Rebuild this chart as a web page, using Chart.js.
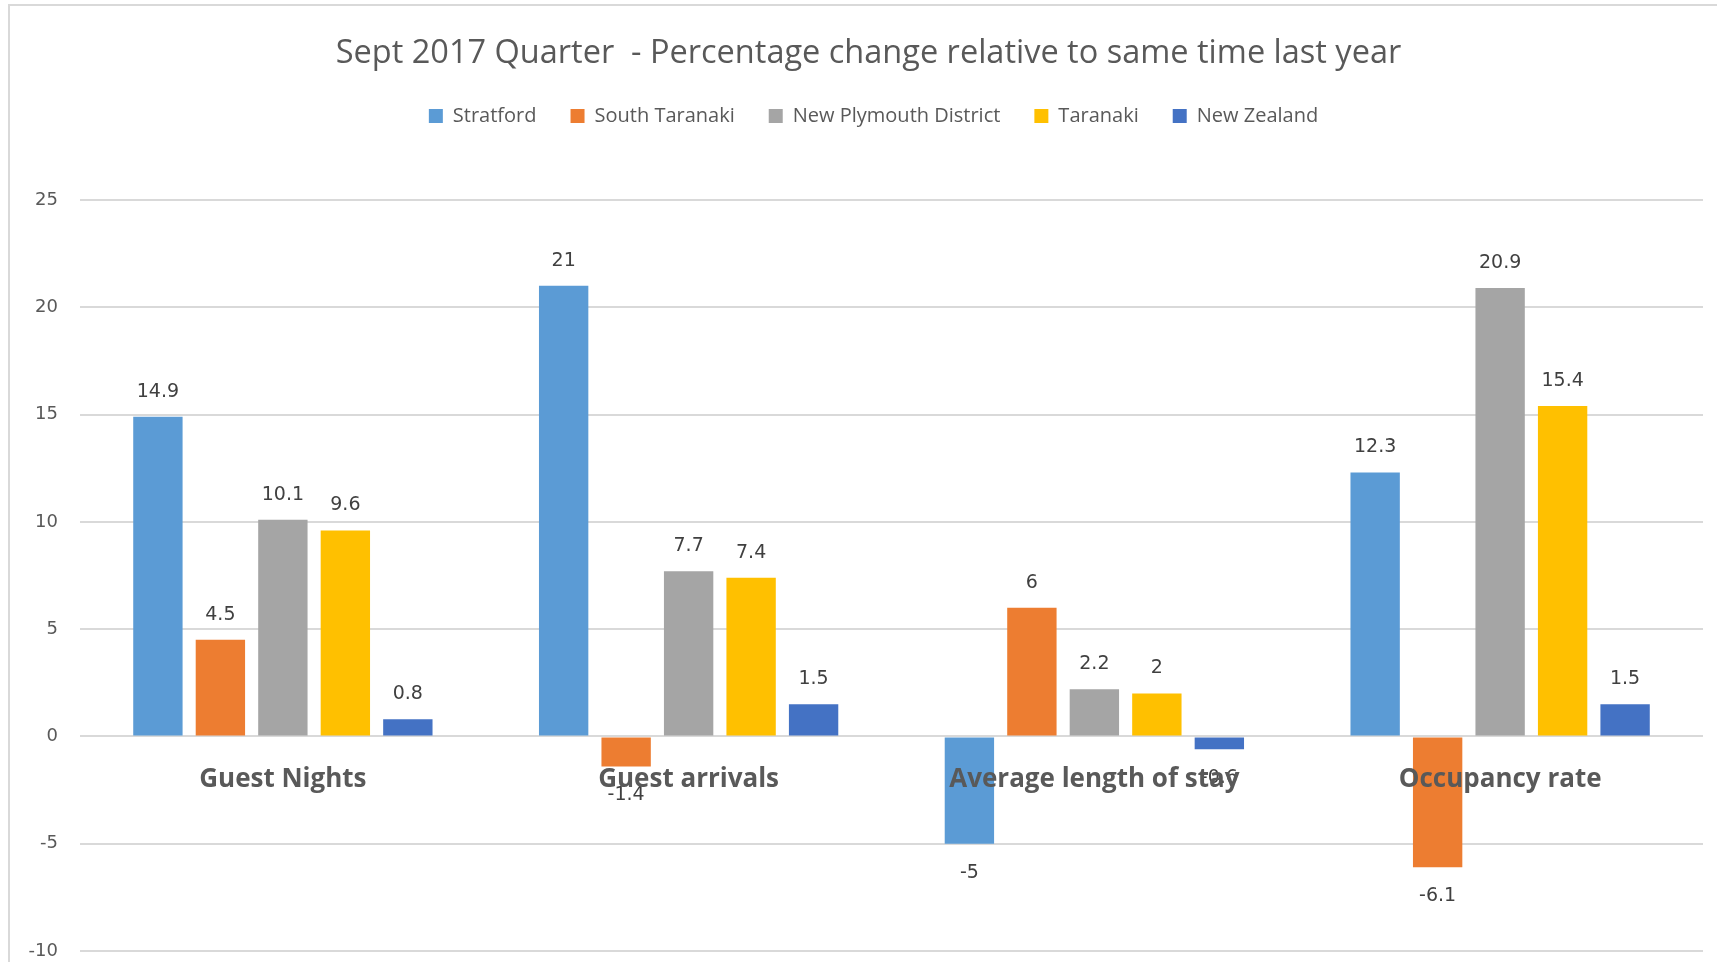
<!DOCTYPE html>
<html>
<head>
<meta charset="utf-8">
<script src="https://cdn.jsdelivr.net/npm/chart.js@4"></script>
<style>
  html, body { margin: 0; padding: 0; background: #fff; }
  #wrap { width: 1717px; height: 962px; }
</style>
</head>
<body>
<div id="wrap"><canvas id="mycanvas" width="1717" height="962"></canvas></div>
<script>
// data
const categories = ['Guest Nights', 'Guest arrivals', 'Average length of stay', 'Occupancy rate'];
const stratford = [14.9, 21, -5, 12.3];
const southTaranaki = [4.5, -1.4, 6, -6.1];
const newPlymouth = [10.1, 7.7, 2.2, 20.9];
const taranaki = [9.6, 7.4, 2, 15.4];
const newZealand = [0.8, 1.5, -0.6, 1.5];
const yTicks = [-10, -5, 0, 5, 10, 15, 20, 25];

// value labels above / below each bar
const barLabels = {
  id: 'barLabels',
  afterDatasetsDraw(chart) {
    const ctx = chart.ctx;
    ctx.save();
    ctx.font = '19px "DejaVu Sans"';
    ctx.fillStyle = '#404040';
    ctx.textAlign = 'center';
    ctx.textBaseline = 'middle';
    chart.data.datasets.forEach((ds, i) => {
      chart.getDatasetMeta(i).data.forEach((bar, j) => {
        const v = ds.data[j];
        const y = v >= 0 ? bar.y - 25 : bar.y + 29;
        ctx.fillText(String(v), bar.x, y);
      });
    });
    ctx.restore();
  }
};

// extra room under the legend, and nudge title/legend a bit right
const legendSpacer = {
  id: 'legendSpacer',
  beforeInit(chart) {
    const fit = chart.legend.fit;
    chart.legend.fit = function () {
      fit.bind(chart.legend)();
      this.height += 64;
    };
  },
  afterLayout(chart) {
    chart.titleBlock.left += 9;
    chart.titleBlock.right += 9;
    chart.legend.left += 14;
    chart.legend.right += 14;
  }
};

// thin frame line at top and left like the original
const frame = {
  id: 'frame',
  beforeDraw(chart) {
    const ctx = chart.ctx;
    ctx.save();
    ctx.strokeStyle = '#D9D9D9';
    ctx.lineWidth = 2;
    ctx.beginPath();
    ctx.moveTo(9, 962);
    ctx.lineTo(9, 5);
    ctx.lineTo(1717, 5);
    ctx.stroke();
    ctx.restore();
  }
};

new Chart(document.getElementById('mycanvas'), {
  type: 'bar',
  data: {
    labels: categories,
    datasets: [
      { label: 'Stratford', data: stratford, backgroundColor: '#5B9BD5' },
      { label: 'South Taranaki', data: southTaranaki, backgroundColor: '#ED7D31' },
      { label: 'New Plymouth District', data: newPlymouth, backgroundColor: '#A5A5A5' },
      { label: 'Taranaki', data: taranaki, backgroundColor: '#FFC000' },
      { label: 'New Zealand', data: newZealand, backgroundColor: '#4472C4' },
    ],
  },
  options: {
    responsive: false,
    animation: false,
    layout: { padding: { left: 16, right: 14, top: 34, bottom: 2 } },
    datasets: { bar: { categoryPercentage: 0.77, barPercentage: 0.79 } },
    scales: {
      x: {
        position: { y: 0 },
        afterFit(axis) { axis.height = 0; },
        grid: { display: false },
        border: { display: false },
        ticks: {
          z: 1,
          padding: 20,
          color: '#595959',
          font: { family: '"Open Sans"', size: 26, weight: 'bold' },
        },
      },
      y: {
        min: -10,
        max: 25,
        afterBuildTicks(axis) { axis.ticks = yTicks.map(v => ({ value: v })); },
        afterFit(axis) {
          axis.width = 64;
          axis.paddingTop = 11;
          axis.paddingBottom = 11;
        },
        grid: { color: '#D9D9D9', lineWidth: 2, drawTicks: false },
        border: { display: false },
        ticks: {
          padding: 22,
          color: '#595959',
          font: { family: '"DejaVu Sans"', size: 18 },
        },
      },
    },
    plugins: {
      title: {
        display: true,
        text: 'Sept 2017 Quarter  - Percentage change relative to same time last year',
        color: '#595959',
        font: { family: '"Open Sans"', size: 32.5, weight: 'normal' },
        padding: { top: 0, bottom: -1 },
      },
      legend: {
        labels: {
          color: '#595959',
          boxWidth: 14,
          boxHeight: 14,
          padding: 34,
          font: { family: '"Open Sans"', size: 20 },
        },
      },
      tooltip: { enabled: false },
    },
  },
  plugins: [barLabels, legendSpacer, frame],
});
</script>
</body>
</html>
